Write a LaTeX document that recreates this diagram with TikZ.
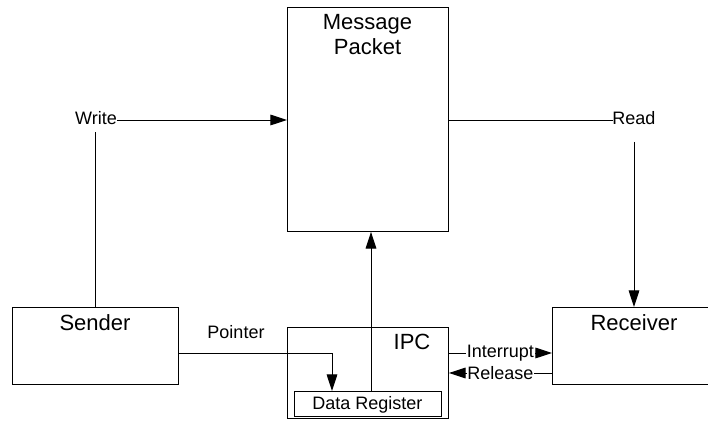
\documentclass[tikz,border=0pt]{standalone}
\usepackage{fontspec}
\setmainfont{Liberation Sans}
\usetikzlibrary{arrows.meta}
\begin{document}
\begin{tikzpicture}[x=0.75pt,y=-0.75pt,
  box/.style={draw,line width=0.7pt,inner sep=0,anchor=north west},
  title/.style={font=\fontsize{16.5}{18.75}\selectfont,inner sep=0,anchor=base,align=center},
  lbl/.style={font=\fontsize{13.5}{16}\selectfont,inner sep=0,anchor=base},
  wire/.style={line width=0.7pt},
  arr/.style={wire,-{Triangle[length=12.5pt,width=8pt]}}]
\useasboundingbox (0,0) rectangle (708,423);
% boxes
\node[box,minimum width=120.75pt,minimum height=168pt] (msg) at (287,7) {};
\node[box,minimum width=124.5pt,minimum height=57.75pt] (sender) at (12,307) {};
\node[box,minimum width=123pt,minimum height=57.75pt] (receiver) at (552,307) {};
\node[box,minimum width=120.75pt,minimum height=68.25pt] (ipc) at (287,327) {};
\node[box,minimum width=110.25pt,minimum height=18.75pt] (dreg) at (294,391) {};
% titles
\node[title] (msgtitle) at (367.5,55) {Message\\Packet};
\node[title] (sendertitle) at (95,331) {Sender};
\node[title] (receivertitle) at (634,331) {Receiver};
\node[title] (ipctitle) at (412,350) {IPC};
\node[lbl] (dregtitle) at (367.5,410) {Data Register};
% labels
\node[lbl] (write) at (96,125) {Write};
\node[lbl] (read) at (634,125) {Read};
\node[lbl] (pointer) at (236,339) {Pointer};
\coordinate (writedrop) at (95,132);
\coordinate (readdrop) at (634,142);
\coordinate (writeend) at (117,120);
\coordinate (readend) at (613,120);
% connectors
\draw[wire] (sender.north -| writedrop) -- (writedrop);
\draw[arr] (writeend) -- (writeend -| msg.west);
\draw[wire] (readend -| msg.east) -- (readend);
\draw[arr] (readdrop) -- (readdrop |- receiver.north);
\coordinate (ptrturn) at (332,353);
\draw[arr] (ptrturn -| sender.east) -- (ptrturn) -- (ptrturn |- dreg.north);
\coordinate (up) at (371,391);
\draw[arr] (up) -- (up |- msg.south);
\coordinate (intr) at (0,353);
\coordinate (rel) at (0,373);
\draw[arr] (intr -| ipc.east) -- node[lbl,anchor=center,fill=white,inner xsep=0.5pt,inner ysep=1pt] (intlbl) {Interrupt} (intr -| receiver.west);
\draw[arr] (rel -| receiver.west) -- node[lbl,anchor=center,fill=white,inner xsep=0.5pt,inner ysep=1pt] (rellbl) {Release} (rel -| ipc.east);
\end{tikzpicture}
\end{document}
